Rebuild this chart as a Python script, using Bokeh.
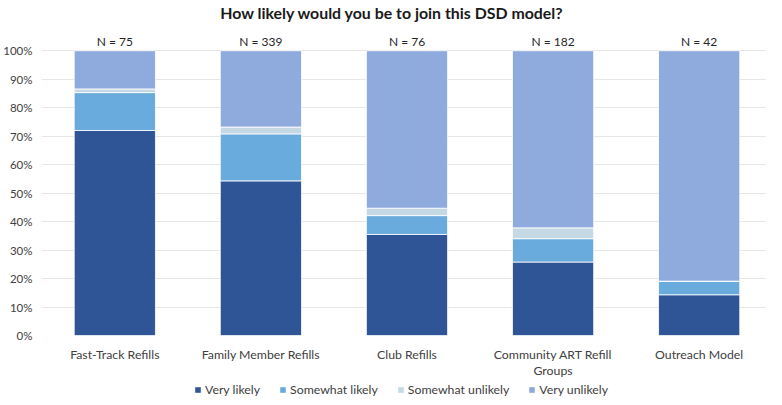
from bokeh.plotting import figure
from bokeh.layouts import column
from bokeh.models import Legend, LegendItem, FixedTicker, Range1d, ColumnDataSource
from bokeh.embed import file_html
from bokeh.resources import INLINE
from bokeh.core.properties import value

title_text = "How likely would you be to join this DSD model?"
categories = ["Fast-Track Refills", "Family Member Refills", "Club Refills",
              "Community ART Refill\nGroups", "Outreach Model"]
n_labels = ["N = 75", "N = 339", "N = 76", "N = 182", "N = 42"]
very_likely = [72.0, 54.3, 35.5, 25.8, 14.3]
somewhat_likely = [13.3, 16.5, 6.6, 8.2, 4.8]
somewhat_unlikely = [1.3, 2.4, 2.6, 3.8, 0.0]
very_unlikely = [13.4, 26.8, 55.3, 62.2, 80.9]
series_names = ["Very likely", "Somewhat likely", "Somewhat unlikely", "Very unlikely"]
colors = ["#2F5597", "#6AABDE", "#C5D9E5", "#8FAADC"]
y_ticks = list(range(0, 101, 10))

FONT = "Lato"
TEXT_COLOR = "#404040"
W = 766
stack_cols = ["vl", "sl", "su", "vu"]

xs = list(range(len(categories)))
src = ColumnDataSource(dict(
    x=xs, vl=very_likely, sl=somewhat_likely, su=somewhat_unlikely, vu=very_unlikely,
    n=n_labels, top=[100] * len(xs)))

# ---------------- title strip ----------------
# (the column aligns this strip's frame with the chart's frame, which starts 34px in)
pt = figure(width=W, height=24, output_backend="svg", toolbar_location=None,
            x_range=Range1d(34, 766), y_range=Range1d(0, 1),
            x_axis_type=None, y_axis_type=None,
            min_border_left=0, min_border_right=0, min_border_top=0, min_border_bottom=0)
pt.outline_line_color = None
pt.grid.visible = False
pt.text(x=[388], y=[0.5], text=[title_text], text_align="center", text_baseline="middle",
        text_font=value(FONT), text_font_size="15.9px",
        text_font_style="bold", text_color="#1a1a1a")

# ---------------- main chart ----------------
p = figure(width=W, height=357, output_backend="svg", toolbar_location=None,
           x_range=Range1d(-0.502, 4.461), y_range=Range1d(0, 105),
           min_border_left=34, min_border_right=0, min_border_top=12, min_border_bottom=44)
p.outline_line_color = None

renderers = p.vbar_stack(stack_cols, x="x", width=0.556, source=src,
                         color=colors, line_color="white", line_width=0.8)

p.text(x="x", y="top", text="n", source=src, text_align="center",
       text_baseline="bottom", y_offset=-2, text_font=value(FONT),
       text_font_size="12px", text_color="#262626")

p.yaxis.ticker = FixedTicker(ticks=y_ticks)
p.yaxis.major_label_overrides = {t: f"{t}%" for t in y_ticks}
p.yaxis.axis_line_color = None
p.yaxis.major_tick_line_color = None
p.yaxis.minor_tick_line_color = None
p.yaxis.major_label_standoff = 3
p.yaxis.major_label_text_font = FONT
p.yaxis.major_label_text_font_size = "11.5px"
p.yaxis.major_label_text_color = TEXT_COLOR

p.xaxis.ticker = FixedTicker(ticks=xs)
p.xaxis.major_label_overrides = {i: c for i, c in zip(xs, categories)}
p.xaxis.axis_line_color = None
p.xaxis.major_tick_line_color = None
p.xaxis.minor_tick_line_color = None
p.xaxis.major_label_standoff = 5
p.xaxis.major_label_text_font = FONT
p.xaxis.major_label_text_font_size = "12.3px"
p.xaxis.major_label_text_line_height = 1.1
p.xaxis.major_label_text_color = TEXT_COLOR

p.xgrid.grid_line_color = None
p.ygrid.ticker = FixedTicker(ticks=y_ticks)
p.ygrid.grid_line_color = "#E6E6E6"
p.ygrid.grid_line_width = 1

# ---------------- legend strip ----------------
# renderers kept out of view; they only supply the legend swatches
pl = figure(width=W, height=16, output_backend="svg", toolbar_location=None,
            x_range=Range1d(50, 51), y_range=Range1d(500, 501),
            x_axis_type=None, y_axis_type=None,
            min_border_left=0, min_border_right=0, min_border_top=0, min_border_bottom=0)
pl.outline_line_color = None
pl.grid.visible = False
leg_renderers = pl.vbar_stack(stack_cols, x="x", width=0.556, source=src,
                              color=colors, line_color=None)
legend = Legend(items=[LegendItem(label=n, renderers=[r]) for n, r in zip(series_names, leg_renderers)],
                orientation="horizontal", location=(153, 0))
legend.border_line_color = None
legend.background_fill_alpha = 0
legend.label_text_font = FONT
legend.label_text_font_size = "12.3px"
legend.label_text_color = TEXT_COLOR
legend.glyph_width = 7
legend.glyph_height = 7
legend.label_standoff = 4
legend.spacing = 19
legend.padding = 0
legend.margin = 0
legend.label_height = 14
pl.add_layout(legend, "center")

open("out.html", "w").write(file_html(column(pt, p, pl, spacing=0), INLINE))
